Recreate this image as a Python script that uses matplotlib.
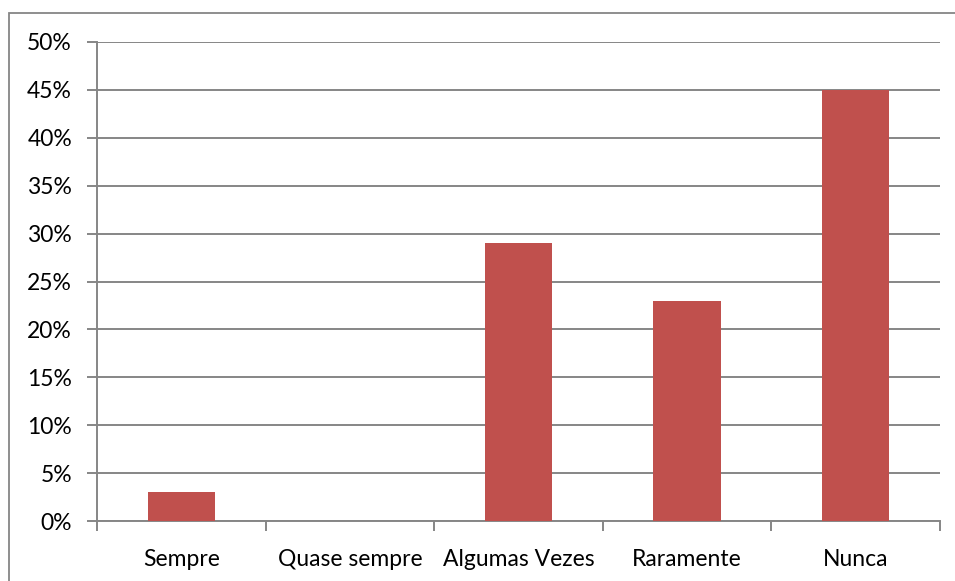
import matplotlib.pyplot as plt
from matplotlib.patches import Rectangle
from matplotlib.ticker import FixedLocator, PercentFormatter

categorias = ["Sempre", "Quase sempre", "Algumas Vezes", "Raramente", "Nunca"]
percentuais = [3, 0, 29, 23, 45]
ticks_y = [0, 5, 10, 15, 20, 25, 30, 35, 40, 45, 50]

COR_BARRA = "#C0504D"
COR_GRADE = "#868686"

plt.rcParams["font.family"] = ["Lato", "DejaVu Sans"]

fig = plt.figure(figsize=(9.55, 5.81), dpi=100)
ax = fig.add_axes([97 / 955, 60 / 581, 843 / 955, 479 / 581])

# moldura externa do grafico (so topo e esquerda aparecem)
fig.patches.append(Rectangle((9 / 955, -0.05), 1.2, (581 - 13) / 581 + 0.05,
                             transform=fig.transFigure, fill=False,
                             edgecolor=COR_GRADE, linewidth=1.3))

x = list(range(len(categorias)))
ax.bar(x, percentuais, width=0.4, color=COR_BARRA, zorder=3)

ax.set_xlim(-0.5, len(categorias) - 0.5)
ax.set_ylim(0, 50)
ax.set_yticks(ticks_y)
ax.yaxis.set_major_formatter(PercentFormatter(decimals=0))
ax.grid(axis="y", color=COR_GRADE, linewidth=1.4, zorder=0)

ax.set_xticks(x)
ax.set_xticklabels(categorias, fontsize=16.5)
ax.xaxis.set_minor_locator(FixedLocator([i - 0.5 for i in range(len(categorias) + 1)]))
ax.tick_params(axis="x", which="major", length=0, pad=20)
ax.tick_params(axis="x", which="minor", length=7, width=1.4, color=COR_GRADE)
ax.tick_params(axis="y", length=7, width=1.4, color=COR_GRADE, labelsize=16.5, pad=11)

for lado in ["top", "right"]:
    ax.spines[lado].set_visible(False)
for lado in ["left", "bottom"]:
    ax.spines[lado].set_color(COR_GRADE)
    ax.spines[lado].set_linewidth(1.4)

fig.savefig("out.png", dpi=100)
